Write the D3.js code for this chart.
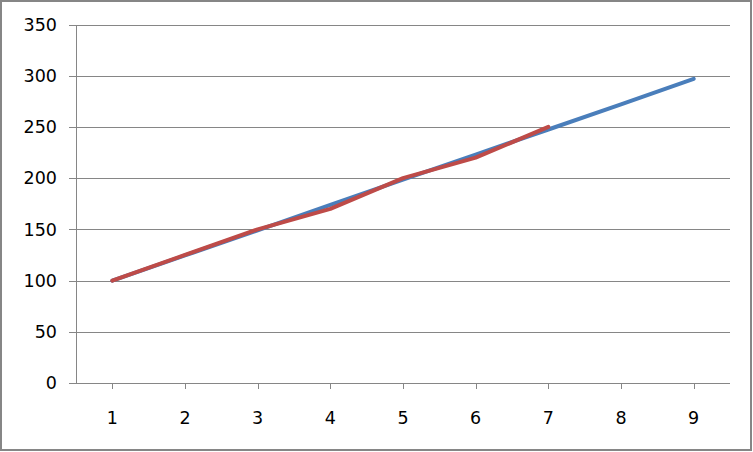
<!DOCTYPE html>
<html><head><meta charset="utf-8">
<script src="https://cdn.jsdelivr.net/npm/d3@7"></script>
<style>body{margin:0;background:#fff}svg{display:block}</style>
</head><body>
<script>
const categories = [1,2,3,4,5,6,7,8,9];
const blueValues = [100,124.5,149,174,198.5,223,247.5,272,297];
const redValues = [100,125,150,170,200,220,250];
const yTicks = [0,50,100,150,200,250,300,350];

const W = 753, H = 452;
const m = {left:76, right:23, top:24.5, bottom:69};
const svg = d3.select("body").append("svg").attr("width",W).attr("height",H);

svg.append("rect").attr("x",1).attr("y",1).attr("width",750).attr("height",449)
  .attr("fill","#fff").attr("stroke","#868686").attr("stroke-width",2);

const x = d3.scaleBand().domain(categories).range([m.left, W-m.right]);
const y = d3.scaleLinear().domain([0,350]).range([H-m.bottom, m.top]);
const cx = d => x(d) + x.bandwidth()/2;

// gridlines
svg.append("g").selectAll("line").data(yTicks).join("line")
  .attr("x1",69).attr("x2",W-m.right)
  .attr("y1",d=>Math.round(y(d))+0.5).attr("y2",d=>Math.round(y(d))+0.5)
  .attr("stroke","#868686").attr("stroke-width",1);

// y axis line
svg.append("line").attr("x1",m.left+0.5).attr("x2",m.left+0.5)
  .attr("y1",Math.round(y(350))).attr("y2",Math.round(y(0))+1)
  .attr("stroke","#868686");

// x tick marks
svg.append("g").selectAll("line").data(categories).join("line")
  .attr("x1",d=>Math.round(cx(d))+0.5).attr("x2",d=>Math.round(cx(d))+0.5)
  .attr("y1",Math.round(y(0))).attr("y2",Math.round(y(0))+6)
  .attr("stroke","#868686");

const font = "'DejaVu Sans', Verdana, sans-serif";
svg.append("g").selectAll("text").data(yTicks).join("text")
  .attr("x",57).attr("y",d=>y(d)).attr("dy","0.36em")
  .attr("text-anchor","end").attr("font-family",font).attr("font-size",17.5)
  .attr("fill","#000").text(d=>d);

svg.append("g").selectAll("text").data(categories).join("text")
  .attr("x",d=>cx(d)).attr("y",424)
  .attr("text-anchor","middle").attr("font-family",font).attr("font-size",17.5)
  .attr("fill","#000").text(d=>d);

const line = d3.line().x((d,i)=>cx(categories[i])).y(d=>y(d));
svg.append("path").datum(blueValues).attr("d",line).attr("fill","none")
  .attr("stroke","#4A7EBB").attr("stroke-width",4).attr("stroke-linecap","round").attr("stroke-linejoin","round");
svg.append("path").datum(redValues).attr("d",line).attr("fill","none")
  .attr("stroke","#BE4B48").attr("stroke-width",4).attr("stroke-linecap","round").attr("stroke-linejoin","round");
</script>
</body></html>
